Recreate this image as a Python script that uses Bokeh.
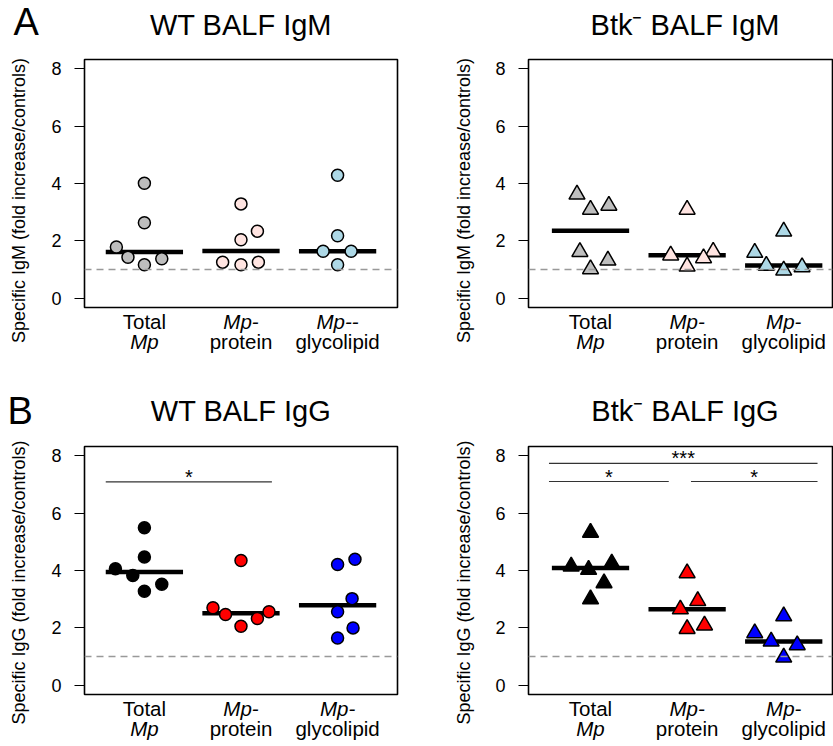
import numpy as np
from bokeh.plotting import figure
from bokeh.layouts import column, row
from bokeh.models import Range1d, FixedTicker, Span
from bokeh.core.properties import value
from bokeh.embed import file_html
from bokeh.resources import INLINE

FONT = "Liberation Sans"

# ---------------- data ----------------
categories = [1, 2, 3]
y_ticks = [0, 2, 4, 6, 8]
reference_level = 1.0

line1_a_left = ["Total", "Mp-", "Mp--"]
line1_other = ["Total", "Mp-", "Mp-"]
line2_labels = ["Mp", "protein", "glycolipid"]

# WT BALF IgM
wt_igm_total = [4.01, 2.63, 1.79, 1.43, 1.17, 1.38]
wt_igm_protein = [3.29, 2.34, 2.04, 1.26, 1.17, 1.26]
wt_igm_glyco = [4.29, 2.18, 1.64, 1.64, 1.17]
wt_igm_total_jit = [0, 0, -0.29, -0.17, 0, 0.18]
wt_igm_protein_jit = [0, 0.17, 0, -0.19, 0, 0.18]
wt_igm_glyco_jit = [0, 0, -0.15, 0.14, 0]

# Btk- BALF IgM
btk_igm_total = [3.62, 3.09, 3.23, 1.62, 1.02, 1.32]
btk_igm_protein = [3.09, 1.50, 1.63, 1.40, 1.11]
btk_igm_glyco = [2.33, 1.59, 1.14, 0.97, 1.09]
btk_igm_total_jit = [-0.14, 0, 0.19, -0.11, 0, 0.18]
btk_igm_protein_jit = [0, -0.17, 0.27, 0.17, 0]
btk_igm_glyco_jit = [0, -0.30, -0.18, 0, 0.19]

# WT BALF IgG
wt_igg_total = [5.49, 4.47, 4.06, 3.83, 3.52, 3.28]
wt_igg_protein = [4.35, 2.70, 2.47, 2.06, 2.33, 2.56]
wt_igg_glyco = [4.21, 4.39, 3.02, 2.56, 2.00, 1.65]
wt_igg_total_jit = [0, 0, -0.30, -0.12, 0.18, 0]
wt_igg_protein_jit = [0, -0.29, -0.16, 0, 0.17, 0.29]
wt_igg_glyco_jit = [0, 0.18, 0.15, 0, 0.16, 0]

# Btk- BALF IgG
btk_igg_total = [5.32, 4.14, 4.03, 4.25, 3.56, 3.00]
btk_igg_protein = [3.91, 2.94, 2.65, 1.97, 2.09]
btk_igg_glyco = [2.41, 1.82, 1.53, 1.40, 0.97]
btk_igg_total_jit = [0, -0.20, -0.02, 0.22, 0.14, 0]
btk_igg_protein_jit = [0, 0.11, -0.07, 0, 0.18]
btk_igg_glyco_jit = [0, -0.30, -0.13, 0.14, 0]

# significance brackets
wt_igg_sig_x0 = [0.60]
wt_igg_sig_x1 = [2.32]
wt_igg_sig_y = [7.09]
wt_igg_sig_text = ["*"]

btk_igg_sig_x0 = [0.57, 2.04, 0.57]
btk_igg_sig_x1 = [1.81, 3.35, 3.35]
btk_igg_sig_y = [7.10, 7.10, 7.73]
btk_igg_sig_text = ["*", "*", "***"]

colors_a = ["#BEBEBE", "#FFE4E1", "#ADD8E6"]
colors_b = ["#000000", "#FF0000", "#0000FF"]

ylab_m = "Specific IgM (fold increase/controls)"
ylab_g = "Specific IgG (fold increase/controls)"

# ---------------- layout constants (pixels) ----------------
TOTAL_W = 833
STRIP_L_W = 40
STRIP_R_W = 35
L_BORDER_L, L_FRAME_W, L_BORDER_R = 44, 313, 48
R_BORDER_L, R_FRAME_W, R_BORDER_R = 48, 304, 1
FRAME_H = 248
PX_PER_UNIT = 96.6
L_X0 = 0.38
R_X0 = 0.358
BASE_SHIFT = 0.44   # svg text baseline correction (fraction of font size)

L_COL_X = STRIP_L_W
R_COL_X = STRIP_L_W + L_BORDER_L + L_FRAME_W + L_BORDER_R + STRIP_R_W


def bare_fig(w, h, xr=None, yr=None, **kw):
    f = figure(frame_width=w, frame_height=h, title=None,
               x_range=xr if xr is not None else Range1d(0, w),
               y_range=yr if yr is not None else Range1d(h, 0),
               output_backend="svg", toolbar_location=None, tools="",
               x_axis_location=None, y_axis_location=None, **kw)
    f.outline_line_color = None
    f.xgrid.visible = False
    f.ygrid.visible = False
    return f


def make_panel(groups, jitters, colors, marker, size, xr,
               frame_w, b_left, b_right, b_top, sig=None):
    p = figure(frame_width=frame_w, frame_height=FRAME_H, title=None,
               x_range=xr, y_range=Range1d(-0.32, 8.32),
               output_backend="svg", toolbar_location=None, tools="",
               min_border_left=b_left, min_border_right=b_right,
               min_border_top=b_top, min_border_bottom=2,
               x_axis_location=None,
               background_fill_color="white", border_fill_color="white")
    p.outline_line_color = "black"
    p.outline_line_width = 1.6
    p.xgrid.visible = False
    p.ygrid.visible = False

    ax = p.yaxis[0]
    ax.ticker = FixedTicker(ticks=y_ticks)
    ax.major_label_text_font = FONT
    ax.major_label_text_font_size = "18px"
    ax.major_label_text_color = "black"
    ax.major_tick_out = 10
    ax.major_tick_in = 0
    ax.minor_tick_line_color = None
    ax.major_tick_line_color = "black"
    ax.major_tick_line_width = 1.2
    ax.axis_line_color = "black"
    ax.major_label_standoff = 13

    p.add_layout(Span(location=reference_level, dimension="width",
                      line_color="#999999", line_dash="7 5", line_width=1.5))

    meds = [float(np.median(g)) for g in groups]
    p.segment(x0=[c - 0.4 for c in categories], x1=[c + 0.4 for c in categories],
              y0=meds, y1=meds, line_color="black", line_width=4.5, line_cap="butt")

    for c, g, j, col in zip(categories, groups, jitters, colors):
        xs = [c + o for o in j]
        p.scatter(x=xs, y=g, marker=marker, size=size, fill_color=col,
                  line_color="black", line_width=1.5)

    if sig is not None:
        x0, x1, y, txt = sig
        p.segment(x0=x0, x1=x1, y0=y, y1=y, line_color="#333333", line_width=1.2)
        p.text(x=[(a + b) / 2 for a, b in zip(x0, x1)], y=y, text=txt,
               text_font=value(FONT), text_font_size="20px", text_align="center",
               text_baseline="alphabetic", y_offset=-5, text_color="black")
    return p


def make_footer(xr, frame_w, b_left, b_right, height, line1):
    f = bare_fig(frame_w, height, xr=xr, min_border_left=b_left,
                 min_border_right=b_right, min_border_top=0, min_border_bottom=0)
    fs = 20.5
    for c, t1, t2 in zip(categories, line1, line2_labels):
        for t, base in ((t1, 21), (t2, 41)):
            st = "italic" if t.startswith("Mp") else "normal"
            f.text(x=[c], y=[base - BASE_SHIFT * fs], text=[t], text_font=value(FONT),
                   text_font_size=f"{fs}px", text_font_style=st,
                   text_align="center", text_baseline="alphabetic",
                   text_color="black")
    return f


def make_header(height, letter, letter_x, letter_base, titles, title_base):
    h = bare_fig(TOTAL_W, height, min_border=0)
    h.text(x=[letter_x], y=[letter_base - BASE_SHIFT * 38], text=[letter],
           text_font=value(FONT), text_font_size="38px", text_align="left",
           text_baseline="alphabetic", text_color="black")
    left_c = L_COL_X + L_BORDER_L + L_FRAME_W / 2
    right_c = R_COL_X + R_BORDER_L + L_FRAME_W / 2
    yb = title_base - BASE_SHIFT * 29
    h.text(x=[left_c, right_c], y=[yb, yb], text=titles,
           text_font=value(FONT), text_font_size="29px", text_align="center",
           text_baseline="alphabetic", text_color="black")
    return h


def make_ylab_strip(w, height, label, x_center, y_center):
    s = bare_fig(w, height, min_border=0)
    s.text(x=[x_center], y=[y_center], text=[label], angle=np.pi / 2,
           text_font=value(FONT), text_font_size="18px", text_align="center",
           text_baseline="middle", text_color="black")
    return s


xr_AL = Range1d(L_X0, L_X0 + L_FRAME_W / PX_PER_UNIT)
xr_AR = Range1d(R_X0, R_X0 + R_FRAME_W / PX_PER_UNIT)
xr_BL = Range1d(L_X0, L_X0 + L_FRAME_W / PX_PER_UNIT)
xr_BR = Range1d(R_X0, R_X0 + R_FRAME_W / PX_PER_UNIT)

# row A: header 55, main 4+248+2, footer 81
pA1 = make_panel([wt_igm_total, wt_igm_protein, wt_igm_glyco],
                 [wt_igm_total_jit, wt_igm_protein_jit, wt_igm_glyco_jit], colors_a,
                 "circle", 12, xr_AL, L_FRAME_W, L_BORDER_L, L_BORDER_R, 4)
pA2 = make_panel([btk_igm_total, btk_igm_protein, btk_igm_glyco],
                 [btk_igm_total_jit, btk_igm_protein_jit, btk_igm_glyco_jit], colors_a,
                 "triangle", 16, xr_AR, R_FRAME_W, R_BORDER_L, R_BORDER_R, 4)
# row B: header 46, main 10+248+2, footer 50
pB1 = make_panel([wt_igg_total, wt_igg_protein, wt_igg_glyco],
                 [wt_igg_total_jit, wt_igg_protein_jit, wt_igg_glyco_jit], colors_b,
                 "circle", 12, xr_BL, L_FRAME_W, L_BORDER_L, L_BORDER_R, 10,
                 sig=(wt_igg_sig_x0, wt_igg_sig_x1, wt_igg_sig_y, wt_igg_sig_text))
pB2 = make_panel([btk_igg_total, btk_igg_protein, btk_igg_glyco],
                 [btk_igg_total_jit, btk_igg_protein_jit, btk_igg_glyco_jit], colors_b,
                 "triangle", 16, xr_BR, R_FRAME_W, R_BORDER_L, R_BORDER_R, 10,
                 sig=(btk_igg_sig_x0, btk_igg_sig_x1, btk_igg_sig_y, btk_igg_sig_text))

fA1 = make_footer(xr_AL, L_FRAME_W, L_BORDER_L, L_BORDER_R, 81, line1_a_left)
fA2 = make_footer(xr_AR, R_FRAME_W, R_BORDER_L, R_BORDER_R, 81, line1_other)
fB1 = make_footer(xr_BL, L_FRAME_W, L_BORDER_L, L_BORDER_R, 50, line1_other)
fB2 = make_footer(xr_BR, R_FRAME_W, R_BORDER_L, R_BORDER_R, 50, line1_other)

hA = make_header(55, "A", 13, 38, ["WT BALF IgM", "Btk\u207b BALF IgM"], 37)
hB = make_header(46, "B", 7, 37, ["WT BALF IgG", "Btk\u207b BALF IgG"], 33)

ROW_A_H = 4 + FRAME_H + 2 + 81
ROW_B_H = 10 + FRAME_H + 2 + 50
sAL = make_ylab_strip(STRIP_L_W, ROW_A_H, ylab_m, 18, 145)
sAR = make_ylab_strip(STRIP_R_W, ROW_A_H, ylab_m, 18, 145)
sBL = make_ylab_strip(STRIP_L_W, ROW_B_H, ylab_g, 18, 146)
sBR = make_ylab_strip(STRIP_R_W, ROW_B_H, ylab_g, 18, 146)

layout = column(
    hA,
    row(sAL, column(pA1, fA1, spacing=0), sAR, column(pA2, fA2, spacing=0), spacing=0),
    hB,
    row(sBL, column(pB1, fB1, spacing=0), sBR, column(pB2, fB2, spacing=0), spacing=0),
    spacing=0,
)
open("out.html", "w").write(file_html(layout, INLINE))
